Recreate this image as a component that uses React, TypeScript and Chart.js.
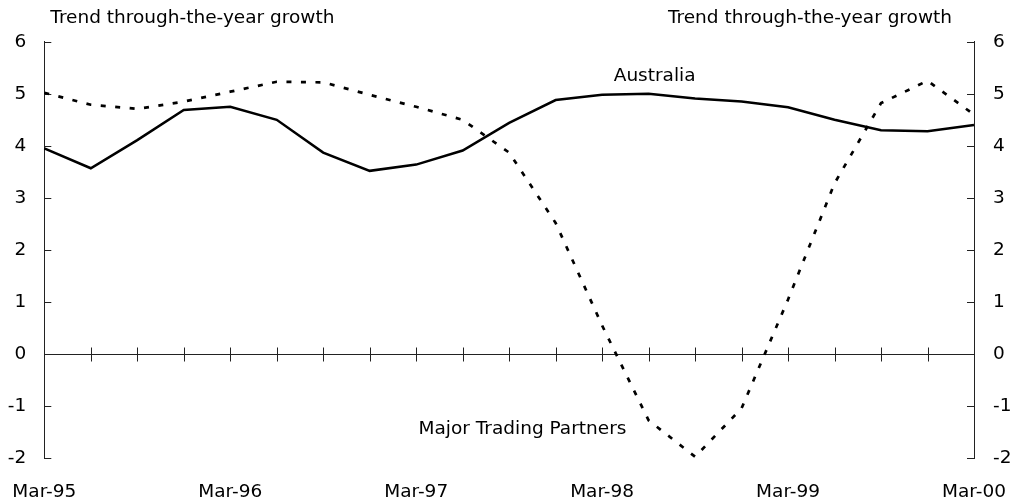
import React, { useEffect, useRef } from "react";
import { Chart, registerables } from "chart.js";

Chart.register(...registerables);

const quarters = [
  "Mar-95", "Jun-95", "Sep-95", "Dec-95",
  "Mar-96", "Jun-96", "Sep-96", "Dec-96",
  "Mar-97", "Jun-97", "Sep-97", "Dec-97",
  "Mar-98", "Jun-98", "Sep-98", "Dec-98",
  "Mar-99", "Jun-99", "Sep-99", "Dec-99",
  "Mar-00",
];

const australia = [
  3.95, 3.57, 4.11, 4.69, 4.75, 4.5, 3.87, 3.52, 3.64, 3.91, 4.44,
  4.88, 4.98, 5.0, 4.91, 4.85, 4.74, 4.5, 4.3, 4.28, 4.4,
];

const partners = [
  5.02, 4.79, 4.71, 4.85, 5.04, 5.23, 5.22, 4.98, 4.75, 4.5, 3.87,
  2.52, 0.55, -1.27, -1.97, -1.04, 1.05, 3.28, 4.82, 5.25, 4.6,
];

const yTicks = [-2, -1, 0, 1, 2, 3, 4, 5, 6];
const axisTitle = "Trend through-the-year growth";
const seriesLabels = [
  { text: "Australia", x: 12.25, y: 5.34 },
  { text: "Major Trading Partners", x: 8.05, y: -1.44 },
];

const FONT = "DejaVu Sans";
const FSIZE = 18.5;

const decorPlugin = {
  id: "decor",
  beforeDatasetsDraw(chart: any) {
    const { ctx, chartArea, scales } = chart;
    const xs = scales.x;
    const yl = scales.y;
    ctx.save();
    ctx.strokeStyle = "#222";
    ctx.lineWidth = 1;
    const y0 = Math.round(yl.getPixelForValue(0)) + 0.5;
    ctx.beginPath();
    ctx.moveTo(chartArea.left, y0);
    ctx.lineTo(chartArea.right, y0);
    ctx.stroke();
    for (let i = 1; i < quarters.length - 1; i++) {
      const px = Math.round(xs.getPixelForValue(i)) + 0.5;
      ctx.beginPath();
      ctx.moveTo(px, y0 - 7);
      ctx.lineTo(px, y0 + 7);
      ctx.stroke();
    }
    for (const v of yTicks) {
      const py = Math.round(yl.getPixelForValue(v)) + 0.5;
      ctx.beginPath();
      ctx.moveTo(chartArea.left, py);
      ctx.lineTo(chartArea.left + 7, py);
      ctx.moveTo(chartArea.right, py);
      ctx.lineTo(chartArea.right - 7, py);
      ctx.stroke();
    }
    ctx.restore();
  },
  afterDraw(chart: any) {
    const { ctx, chartArea, scales } = chart;
    ctx.save();
    ctx.fillStyle = "#000";
    ctx.font = `${FSIZE}px "${FONT}"`;
    ctx.textBaseline = "middle";
    ctx.textAlign = "left";
    ctx.fillText(axisTitle, chartArea.left + 6, chartArea.top - 24);
    ctx.textAlign = "right";
    ctx.fillText(axisTitle, chartArea.right - 22, chartArea.top - 24);
    ctx.textAlign = "left";
    for (const s of seriesLabels) {
      ctx.fillText(s.text, scales.x.getPixelForValue(s.x), scales.y.getPixelForValue(s.y));
    }
    ctx.restore();
  },
};

export default function App() {
  const ref = useRef<HTMLCanvasElement | null>(null);
  useEffect(() => {
    if (!ref.current) return;
    Chart.defaults.font.family = FONT;
    Chart.defaults.font.size = FSIZE;
    Chart.defaults.color = "#000";
    const chart = new Chart(ref.current, {
      type: "line",
      data: {
        labels: quarters,
        datasets: [
          {
            label: "Australia",
            data: australia,
            borderColor: "#000",
            borderWidth: 2.5,
            pointRadius: 0,
            tension: 0,
            fill: false,
          },
          {
            label: "Major Trading Partners",
            data: partners,
            borderColor: "#000",
            borderWidth: 2.7,
            borderDash: [5, 9.5],
            pointRadius: 0,
            tension: 0,
            fill: false,
          },
        ],
      },
      options: {
        responsive: false,
        animation: false,
        layout: { autoPadding: false, padding: { top: 41.7, left: 0, right: 0, bottom: 0 } },
        plugins: {
          legend: { display: false },
          tooltip: { enabled: false },
          title: { display: false },
        },
        scales: {
          x: {
            type: "category",
            offset: false,
            grid: { display: false, drawTicks: true, tickLength: 23 },
            border: { display: false },
            ticks: {
              autoSkip: false,
              maxRotation: 0,
              minRotation: 0,
              padding: 0,
              callback: (_v: any, i: number) => (i % 4 === 0 ? quarters[i] : ""),
            },
            afterFit: (s: any) => {
              s.height = 44.7;
            },
          },
          y: {
            position: "left",
            min: -2,
            max: 6,
            grid: { display: false, drawTicks: false },
            border: { display: true, color: "#222", width: 1 },
            ticks: { stepSize: 1, padding: 18 },
            afterFit: (s: any) => {
              s.width = 44.3;
            },
          },
          y2: {
            position: "right",
            min: -2,
            max: 6,
            grid: { display: false, drawTicks: false },
            border: { display: true, color: "#222", width: 1 },
            ticks: { stepSize: 1, padding: 19 },
            afterFit: (s: any) => {
              s.width = 41;
            },
          },
        },
      },
      plugins: [decorPlugin],
    });
    return () => chart.destroy();
  }, []);
  return (
    <div style={{ position: "absolute", left: 0, top: 0, width: 1015, height: 503, background: "#fff" }}>
      <canvas ref={ref} width={1015} height={503} style={{ width: 1015, height: 503 }} />
    </div>
  );
}
